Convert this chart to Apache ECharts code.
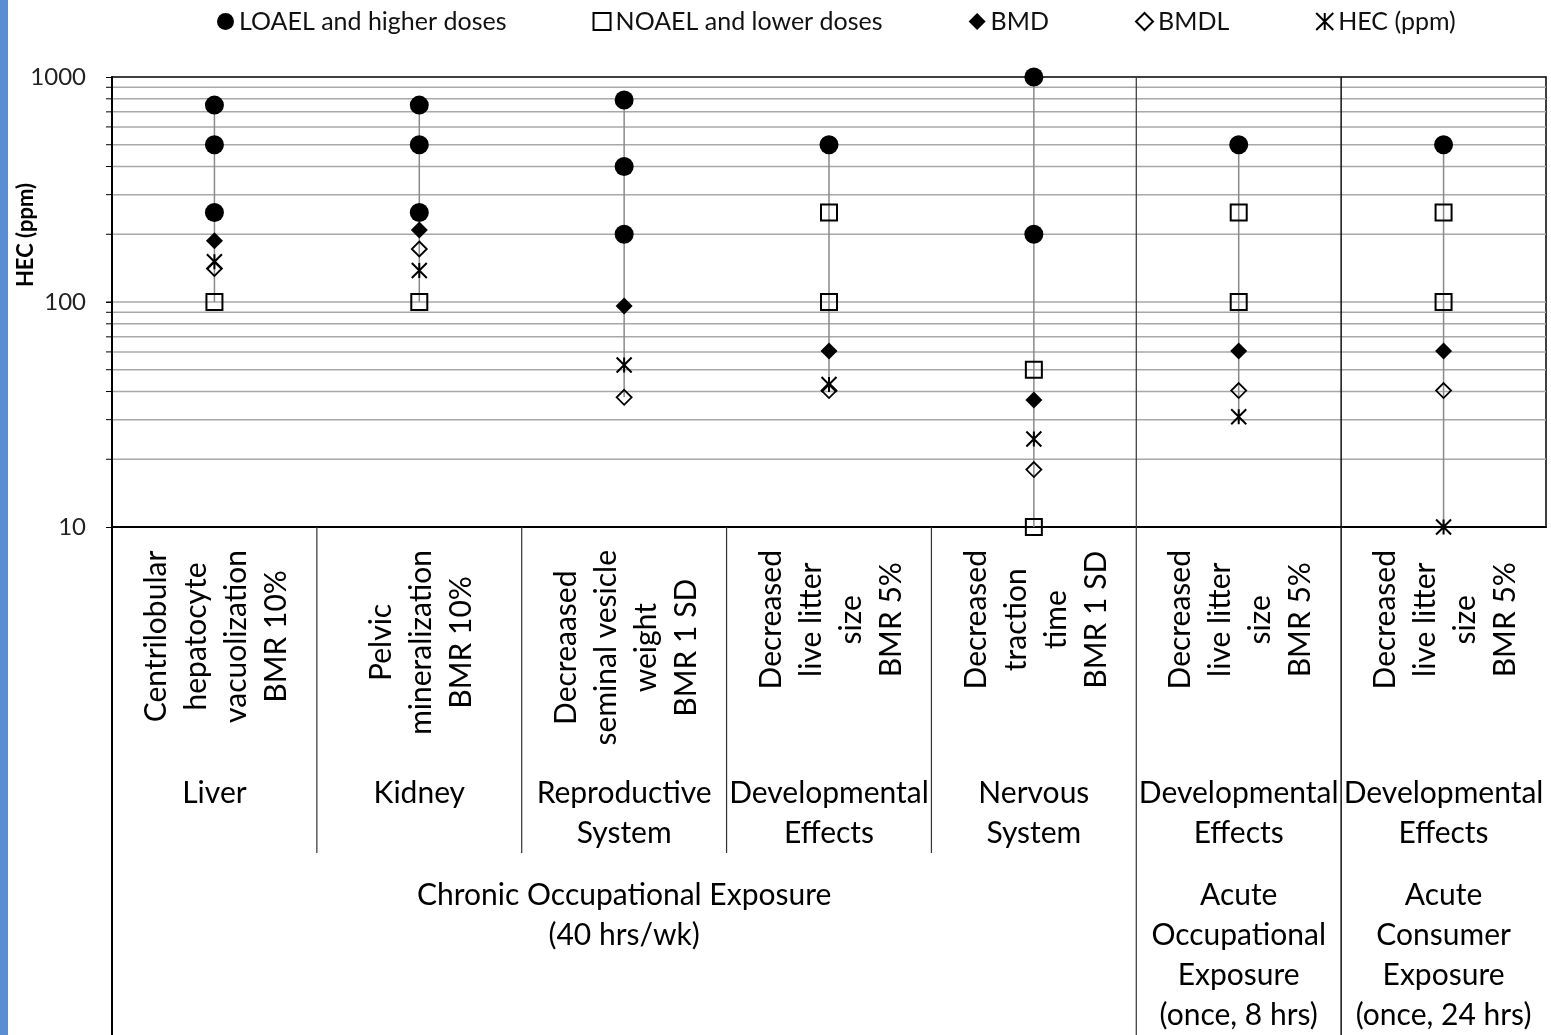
<!DOCTYPE html>
<html>
<head>
<meta charset="utf-8">
<script src="https://cdn.jsdelivr.net/npm/echarts@6/dist/echarts.min.js"></script>
<style>
html,body{margin:0;padding:0;background:#fff;}
#main{width:1551px;height:1035px;}
</style>
</head>
<body>
<div id="main"></div>
<script>
// categories (one per endpoint)
var categories = ['Liver', 'Kidney', 'Reproductive', 'DevChronic', 'Nervous', 'DevAcuteOcc', 'DevAcuteCons'];
var effects = [
  'Centrilobular\nhepatocyte\nvacuolization\nBMR 10%',
  'Pelvic\nmineralization\nBMR 10%',
  'Decreaased\nseminal vesicle\nweight\nBMR 1 SD',
  'Decreased\nlive litter\nsize\nBMR 5%',
  'Decreased\ntraction\ntime\nBMR 1 SD',
  'Decreased\nlive litter\nsize\nBMR 5%',
  'Decreased\nlive litter\nsize\nBMR 5%'
];
var organs = ['Liver', 'Kidney', 'Reproductive\nSystem', 'Developmental\nEffects', 'Nervous\nSystem', 'Developmental\nEffects', 'Developmental\nEffects'];
var exposures = ['Chronic Occupational Exposure\n(40 hrs/wk)', 'Acute\nOccupational\nExposure\n(once, 8 hrs)', 'Acute\nConsumer\nExposure\n(once, 24 hrs)'];
var exposureSpan = [5, 1, 1];

// HEC values (ppm)
var loael = [[750, 500, 250], [750, 500, 250], [790, 400, 200], [500], [1000, 200], [500], [500]];
var noael = [[100], [100], [], [250, 100], [50, 10], [250, 100], [250, 100]];
var bmd = [187, 209, 96, 60.6, 36.7, 60.6, 60.6];
var bmdl = [141, 172, 37.7, 40.4, 18, 40.4, 40.4];
var hec = [151, 138, 52.5, 43, 24.6, 30.9, 10];

var gridValues = [20, 30, 40, 50, 60, 70, 80, 90, 100, 200, 300, 400, 500, 600, 700, 800, 900];

function multi(list) {
  var out = [];
  list.forEach(function (vals, i) {
    vals.forEach(function (v) { out.push([i, v]); });
  });
  return out;
}
function single(list) {
  return list.map(function (v, i) { return [i, v]; });
}
var ranges = categories.map(function (c, i) {
  var all = loael[i].concat(noael[i], [bmd[i], bmdl[i], hec[i]]);
  return [i, Math.min.apply(null, all), Math.max.apply(null, all)];
});

var FONT = 'Lato';
var chart = echarts.init(document.getElementById('main'), null, {renderer: 'canvas'});

var option = {
  animation: false,
  backgroundColor: '#fff',
  legend: {
    top: 4,
    left: 212,
    itemGap: 86,
    itemWidth: 17,
    itemHeight: 17,
    textStyle: {fontFamily: FONT, fontSize: 25, color: '#111'},
    data: ['LOAEL and higher doses', 'NOAEL and lower doses', 'BMD', 'BMDL', 'HEC (ppm)']
  },
  grid: {
    left: 112, right: 5, top: 77, bottom: 508,
    show: true, borderColor: '#000', borderWidth: 1.5,
    outerBoundsMode: 'none'
  },
  xAxis: {
    type: 'category',
    data: categories,
    boundaryGap: true,
    axisLine: {show: true, lineStyle: {color: '#000', width: 2}},
    axisTick: {show: false},
    axisLabel: {show: false},
    splitLine: {show: false}
  },
  yAxis: {
    type: 'log',
    logBase: 10,
    min: 10,
    max: 1000,
    axisLine: {show: true, lineStyle: {color: '#000', width: 2}},
    axisTick: {show: true, length: 6, lineStyle: {color: '#000'}},
    splitLine: {show: false},
    axisLabel: {
      fontFamily: FONT, fontSize: 24, color: '#222', margin: 26,
      formatter: function (v) { return String(v); }
    }
  },
  series: [
    {
      type: 'custom', name: 'grid', silent: true, z: 0, clip: false,
      data: gridValues.map(function (v) { return [0, v]; }),
      encode: {x: 0, y: 1},
      renderItem: function (params, api) {
        var cs = params.coordSys;
        var y = api.coord([0, api.value(1)])[1];
        return {
          type: 'group',
          children: [
            {type: 'line', shape: {x1: cs.x, y1: y, x2: cs.x + cs.width, y2: y}, style: {stroke: '#a8a8a8', lineWidth: 1.5}},
            {type: 'line', shape: {x1: cs.x - 6, y1: y, x2: cs.x, y2: y}, style: {stroke: '#000', lineWidth: 1}}
          ]
        };
      }
    },
    {
      type: 'custom', name: 'range', silent: true, z: 1,
      data: ranges,
      encode: {x: 0, y: [1, 2]},
      renderItem: function (params, api) {
        var a = api.coord([api.value(0), api.value(1)]);
        var b = api.coord([api.value(0), api.value(2)]);
        return {type: 'line', shape: {x1: a[0], y1: a[1], x2: b[0], y2: b[1]}, style: {stroke: '#8a8a8a', lineWidth: 1.5}};
      }
    },
    {
      type: 'scatter', name: 'LOAEL and higher doses', z: 3,
      symbol: 'circle', symbolSize: 19,
      itemStyle: {color: '#000', opacity: 1},
      data: multi(loael)
    },
    {
      type: 'scatter', name: 'NOAEL and lower doses', z: 3,
      symbol: 'rect', symbolSize: 16,
      itemStyle: {color: 'rgba(255,255,255,0)', borderColor: '#000', borderWidth: 2, opacity: 1},
      data: multi(noael)
    },
    {
      type: 'scatter', name: 'BMD', z: 4,
      symbol: 'diamond', symbolSize: 17,
      itemStyle: {color: '#000', opacity: 1},
      data: single(bmd)
    },
    {
      type: 'scatter', name: 'BMDL', z: 4,
      symbol: 'diamond', symbolSize: 15,
      itemStyle: {color: 'rgba(255,255,255,0)', borderColor: '#000', borderWidth: 1.8, opacity: 1},
      data: single(bmdl)
    },
    {
      type: 'scatter', name: 'HEC (ppm)', z: 4,
      symbol: 'path://M0,0L16,16M16,0L0,16M8,0L8,16', symbolSize: 15,
      itemStyle: {color: 'rgba(255,255,255,0)', borderColor: '#000', borderWidth: 2, opacity: 1},
      data: single(hec)
    }
  ]
};
chart.setOption(option);

// labels and separators below the plot
var ctx = document.createElement('canvas').getContext('2d');
var effFont = '30px ' + FONT;
var grpFont = '30px ' + FONT;
ctx.font = effFont;
function maxLen(txt) {
  return Math.max.apply(null, txt.split('\n').map(function (s) { return ctx.measureText(s).width; }));
}
var centers = categories.map(function (c, i) { return chart.convertToPixel({xAxisIndex: 0}, i); });
var band = centers[1] - centers[0];
var left = centers[0] - band / 2;
var plotTop = 77, plotBottom = 527, pageBottom = 1035;

var g = [];
g.push({type: 'rect', shape: {x: 0, y: 0, width: 8, height: 1035}, style: {fill: '#5b8dd5'}, z: 10});
g.push({
  type: 'text', x: 26, y: 235, rotation: Math.PI / 2, z: 10,
  style: {text: 'HEC (ppm)', font: 'bold 22px ' + FONT, fill: '#000', align: 'center', verticalAlign: 'middle'}
});
effects.forEach(function (t, i) {
  g.push({
    type: 'text', x: centers[i] + 2, y: 550 + maxLen(t) / 2, rotation: Math.PI / 2, z: 10,
    style: {text: t, font: effFont, lineHeight: 40, fill: '#000', align: 'center', verticalAlign: 'middle'}
  });
});
organs.forEach(function (t, i) {
  g.push({
    type: 'text', x: centers[i], y: 773, z: 10,
    style: {text: t, font: grpFont, lineHeight: 40, fill: '#000', align: 'center', verticalAlign: 'top'}
  });
});
var start = 0;
exposures.forEach(function (t, k) {
  var x0 = left + start * band, x1 = left + (start + exposureSpan[k]) * band;
  g.push({
    type: 'text', x: (x0 + x1) / 2, y: 875, z: 10,
    style: {text: t, font: grpFont, lineHeight: 40, fill: '#000', align: 'center', verticalAlign: 'top'}
  });
  start += exposureSpan[k];
});
function vline(x, y1, y2, w, c) {
  g.push({type: 'line', z: 10, shape: {x1: x, y1: y1, x2: x, y2: y2}, style: {stroke: c, lineWidth: w}});
}
vline(left, plotBottom, pageBottom, 2, '#000');
for (var k = 1; k <= 4; k++) vline(left + k * band, plotBottom, 853, 1.2, '#333');
vline(left + 5 * band, plotTop, pageBottom, 1.2, '#333');
vline(left + 6 * band, plotTop, pageBottom, 1.5, '#111');

chart.setOption({graphic: g});
</script>
</body>
</html>
